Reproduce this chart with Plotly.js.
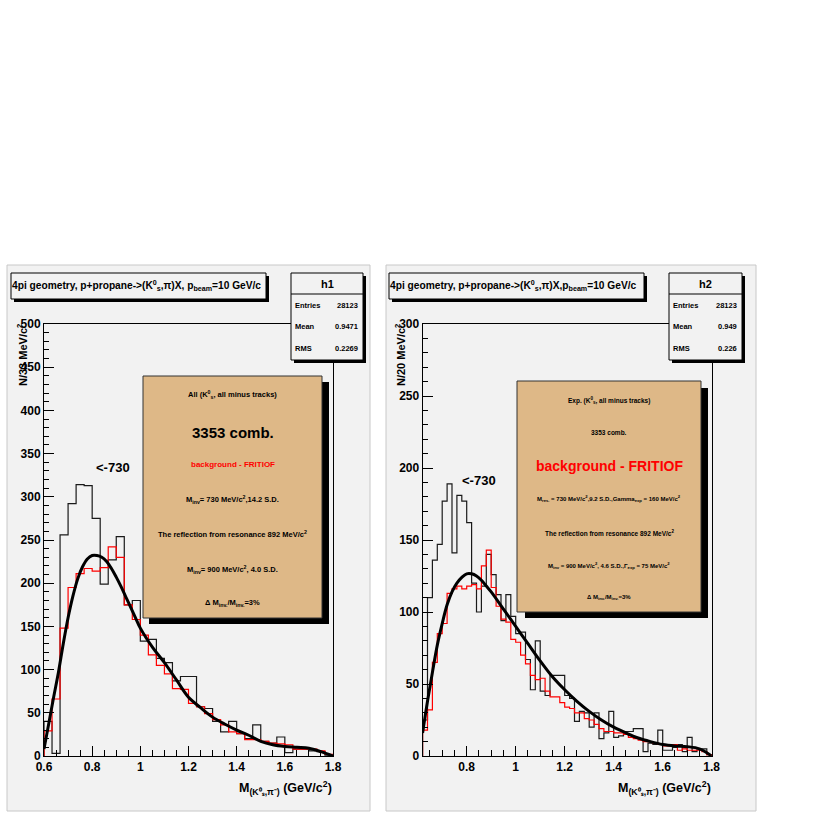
<!DOCTYPE html>
<html><head><meta charset="utf-8">
<script src="https://cdn.plot.ly/plotly-3.0.1.min.js"></script>
<style>body{margin:0;background:#fff}#c{width:817px;height:817px}</style>
</head><body><div id="c"></div>
<script>
// ---------- data ----------
const leftBinLo = 0.6, leftBinHi = 1.8;
const leftBlack = [40,3,256,292,314,313,275,199,227,254,175,180,133,135,113,108,87,92,92,57,55,40,28,40,26,20,36,17,15,22,4,8,8,6,5,1];
const leftRed   = [29,66,148,195,211,217,214,218,242,230,175,158,140,117,105,95,78,77,61,57,49,42,36,28,26,19,19,17,15,14,13,8,8,8,6,2];
const leftFitX = [0.60,0.62,0.64,0.66,0.68,0.70,0.72,0.74,0.76,0.78,0.80,0.82,0.84,0.86,0.88,0.90,0.92,0.94,0.96,0.98,1.00,1.05,1.10,1.15,1.20,1.25,1.30,1.35,1.40,1.45,1.50,1.55,1.60,1.65,1.70,1.75,1.80];
const leftFitY = [8,38,68,97,130,160,185,205,219,228,232,232,230,225,217,207,196,184,172,160,148,126,108,88,68,56,45,37,30,24,17,13,11,10,9,5,0];

const rightBinLo = 0.62, rightBinHi = 1.8;
const rightBlack = [25,110,136,147,177,189,141,181,177,162,120,100,118,140,126,112,94,112,97,85,86,67,46,80,45,42,56,56,56,42,40,24,31,30,20,30,12,16,31,13,14,17,17,19,19,3,9,8,18,4,4,6,8,3,13,3,5,5,1];
const rightRed   = [18,32,65,85,92,113,116,118,116,118,119,116,132,143,117,104,95,93,81,79,70,64,56,53,54,45,41,41,37,34,33,30,30,26,25,22,19,17,17,16,16,15,13,12,11,10,10,9,8,7,7,8,4,5,4,4,4,3,1];
const rightFitX = [0.62,0.64,0.66,0.68,0.70,0.72,0.74,0.76,0.78,0.80,0.82,0.84,0.86,0.88,0.90,0.95,1.00,1.05,1.10,1.15,1.20,1.25,1.30,1.35,1.40,1.45,1.50,1.55,1.60,1.65,1.70,1.75,1.80];
const rightFitY = [16,38,58,77,92,105,114,120,124,126.5,126.5,125,122,118,114,102,90,78,66,55,46,38,31,25,20,16,12.5,10,8,7,6.5,5,0];

const statsNames = ["h1","h2"];
const statsEntries = ["28123","28123"];
const statsMean = ["0.9471","0.949"];
const statsRMS = ["0.2269","0.226"];

// ---------- helpers ----------
const W = 817, H = 817;
const X = p => p / W;
const Y = p => 1 - p / H;
const FONT = "Liberation Sans, Arial, Helvetica, sans-serif";

function stepTrace(lo, hi, vals, color, width, xa, ya) {
  const n = vals.length, w = (hi - lo) / n;
  const xs = [lo, lo], ys = [0, vals[0]];
  for (let i = 1; i < n; i++) { xs.push(lo + i * w); ys.push(vals[i]); }
  xs.push(hi); ys.push(vals[n - 1]);
  xs.push(hi); ys.push(0);
  return {type: "scatter", mode: "lines", x: xs, y: ys, xaxis: xa, yaxis: ya,
          line: {shape: "hv", color: color, width: width}, hoverinfo: "skip"};
}
function fitTrace(xs, ys, xa, ya) {
  return {type: "scatter", mode: "lines", x: xs, y: ys, xaxis: xa, yaxis: ya,
          line: {shape: "spline", smoothing: 1, color: "#000", width: 3}, hoverinfo: "skip"};
}

const traces = [
  stepTrace(leftBinLo, leftBinHi, leftBlack, "#1a1a1a", 1.2, "x", "y"),
  stepTrace(leftBinLo, leftBinHi, leftRed, "#ff0000", 1.2, "x", "y"),
  fitTrace(leftFitX, leftFitY, "x", "y"),
  stepTrace(rightBinLo, rightBinHi, rightBlack, "#1a1a1a", 1.2, "x2", "y2"),
  stepTrace(rightBinLo, rightBinHi, rightRed, "#ff0000", 1.2, "x2", "y2"),
  fitTrace(rightFitX, rightFitY, "x2", "y2"),
];

// ---------- shapes ----------
const shapes = [];
function rect(x0, y0, x1, y1, fill, line, lw, layer) {
  shapes.push({type: "rect", xref: "paper", yref: "paper", x0: X(x0), x1: X(x1), y0: Y(y1), y1: Y(y0),
               fillcolor: fill, line: {color: line || "rgba(0,0,0,0)", width: lw || 0}, layer: layer || "above"});
}
function hline(x0, x1, y, color) {
  shapes.push({type: "line", xref: "paper", yref: "paper", x0: X(x0), x1: X(x1), y0: Y(y), y1: Y(y),
               line: {color: color, width: 1}, layer: "above"});
}
// pads
rect(7, 265, 370, 811, "#f2f2f2", "#c8c8c8", 1, "below");
rect(386, 265, 756, 811, "#f2f2f2", "#c8c8c8", 1, "below");
// title boxes
rect(14, 276, 269, 302, "#000", null, 0, "below");
rect(11, 273, 266, 299, "#f2f2f2", "#000", 1, "below");
rect(392, 276, 647, 302, "#000", null, 0, "below");
rect(389, 273, 644, 299, "#f2f2f2", "#000", 1, "below");
// stats boxes
const statsBoxX = [[291, 363], [669, 742]];
statsBoxX.forEach(([a, b]) => {
  rect(a + 3, 276, b + 3, 363, "#000", null, 0, "above");
  rect(a, 273, b, 360, "#f2f2f2", "#000", 1, "above");
  hline(a, b, 294, "#000");
});
// text boxes (tan)
rect(149, 382, 329, 624, "#000", null, 0, "above");
rect(143, 376, 322, 618, "#deb887", "#333", 1, "above");
rect(525, 388, 708, 618, "#000", null, 0, "above");
rect(517, 381, 701, 612, "#deb887", "#333", 1, "above");

// ---------- annotations ----------
const ann = [];
function txt(x, y, s, size, opts) {
  opts = opts || {};
  ann.push(Object.assign({xref: "paper", yref: "paper", x: X(x), y: Y(y), text: s, showarrow: false,
    xanchor: "center", yanchor: "middle",
    font: {family: FONT, size: size, color: opts.color || "#000", weight: "bold"}}, opts.extra || {}));
}
// titles
txt(10, 286, "<b>4pi geometry, p+propane->(K<sup>0</sup><sub>s</sub>,π)X, p<sub>beam</sub>=10 GeV/c</b>", 10.2, {extra: {xanchor: "left"}});
txt(388, 286, "<b>4pi geometry, p+propane->(K<sup>0</sup><sub>s</sub>,π)X,p<sub>beam</sub>=10 GeV/c</b>", 10.2, {extra: {xanchor: "left"}});
// stats
statsBoxX.forEach(([a, b], i) => {
  txt((a + b) / 2, 284, "<b>" + statsNames[i] + "</b>", 11);
  const rows = [["Entries", statsEntries[i], 305], ["Mean", statsMean[i], 326], ["RMS", statsRMS[i], 348]];
  rows.forEach(r => {
    txt(a + 2, r[2], "<b>" + r[0] + "</b>", 7.5, {extra: {xanchor: "left"}});
    txt(b - 3, r[2], "<b>" + r[1] + "</b>", 7.5, {extra: {xanchor: "right"}});
  });
});
// left tan box
const lc = 232.5;
txt(lc, 394, "<b>All (K<sup>0</sup><sub>s</sub>, all minus tracks)</b>", 7.5);
txt(lc, 432, "<b>3353 comb.</b>", 15);
txt(lc, 464, "<b>background - FRITIOF</b>", 8, {color: "#ff0000"});
txt(lc, 499, "<b>M<sub>inv</sub>= 730 MeV/c<sup>2</sup>,14.2 S.D.</b>", 7.5);
txt(lc, 534, "<b>The reflection from resonance 892 MeV/c<sup>2</sup></b>", 7.5);
txt(lc, 569, "<b>M<sub>inv</sub>= 900 MeV/c<sup>2</sup>, 4.0 S.D.</b>", 7.5);
txt(lc, 603, "<b>Δ M<sub>inv.</sub>/M<sub>inv.</sub>=3%</b>", 7.5);
// right tan box
const rc = 609;
txt(rc, 400, "<b>Exp. (K<sup>0</sup><sub>s</sub>, all minus tracks)</b>", 6.5);
txt(rc, 432, "<b>3353 comb.</b>", 6.5);
txt(rc, 466, "<b>background - FRITIOF</b>", 14, {color: "#ff0000"});
txt(rc, 498, "<b>M<sub>res.</sub> = 730 MeV/c<sup>2</sup>,9.2 S.D.,Gamma<sub>exp</sub> = 160 MeV/c<sup>2</sup></b>", 6);
txt(rc, 533, "<b>The reflection from resonance 892 MeV/c<sup>2</sup></b>", 6.5);
txt(rc, 565, "<b>M<sub>inv</sub> = 900 MeV/c<sup>2</sup>, 4.6 S.D.,Γ<sub>exp</sub> = 75 MeV/c<sup>2</sup></b>", 6);
txt(rc, 597, "<b>Δ M<sub>inv.</sub>/M<sub>inv.</sub>=3%</b>", 6);
// peak markers
txt(113, 467, "<b>&lt;-730</b>", 13);
txt(479, 480, "<b>&lt;-730</b>", 13);
// axis titles
txt(22, 322, "<b>N/33 MeV/c<sup>2</sup></b>", 11, {extra: {textangle: -90, yanchor: "top"}});
txt(400, 322, "<b>N/20 MeV/c<sup>2</sup></b>", 11, {extra: {textangle: -90, yanchor: "top"}});
txt(334, 788, "<b>M<sub>(K⁰ₛ,π⁻)</sub> (GeV/c<sup>2</sup>)</b>", 12.5, {extra: {xanchor: "right"}});
txt(713, 788, "<b>M<sub>(K⁰ₛ,π⁻)</sub> (GeV/c<sup>2</sup>)</b>", 12.5, {extra: {xanchor: "right"}});

// ---------- axes ----------
function xax(dom, range) {
  return {domain: dom, range: range, tick0: 0.6, dtick: 0.2, ticks: "inside", ticklen: 10, tickwidth: 1,
    tickcolor: "#000", showline: true, linecolor: "#000", linewidth: 1, mirror: true, showgrid: false,
    zeroline: false, fixedrange: true,
    tickfont: {family: FONT, size: 12, color: "#000", weight: "bold"},
    minor: {dtick: 0.05, ticks: "inside", ticklen: 6, tickcolor: "#000", tickwidth: 1, showgrid: false}};
}
function yax(dom, range, anchor) {
  return {domain: dom, range: range, dtick: 50, ticks: "inside", ticklen: 10, tickwidth: 1, anchor: anchor,
    tickcolor: "#000", showline: true, linecolor: "#000", linewidth: 1, mirror: true, showgrid: false,
    zeroline: false, fixedrange: true,
    tickfont: {family: FONT, size: 12, color: "#000", weight: "bold"},
    minor: {dtick: 10, ticks: "inside", ticklen: 5, tickcolor: "#000", tickwidth: 1, showgrid: false}};
}
const yDom = [Y(756), Y(324)];
const layout = {
  width: W, height: H, margin: {l: 0, r: 0, t: 0, b: 0, pad: 0},
  paper_bgcolor: "#ffffff", plot_bgcolor: "#f2f2f2", showlegend: false,
  xaxis: Object.assign(xax([X(44), X(333)], [0.6, 1.8]), {anchor: "y"}),
  yaxis: yax(yDom, [0, 500], "x"),
  xaxis2: Object.assign(xax([X(422.6), X(711.7)], [0.62, 1.8]), {anchor: "y2"}),
  yaxis2: yax(yDom, [0, 300], "x2"),
  shapes: shapes, annotations: ann,
};
Plotly.newPlot("c", traces, layout, {staticPlot: true, displayModeBar: false});
</script></body></html>
